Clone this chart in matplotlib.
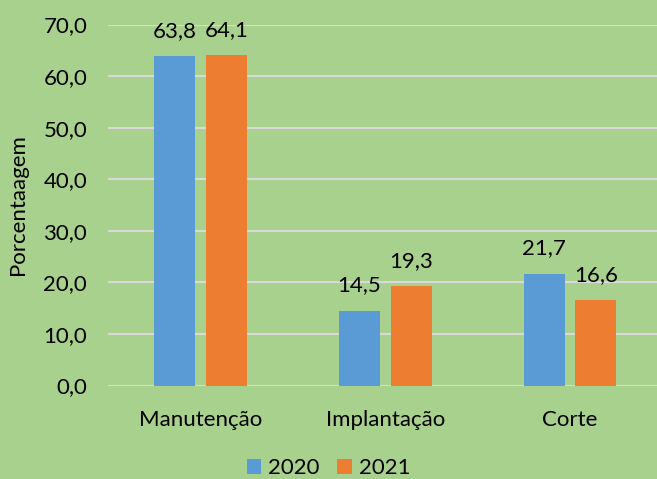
import matplotlib
matplotlib.use("Agg")
import matplotlib.pyplot as plt
import numpy as np

categories = ["Manutenção", "Implantação", "Corte"]
series_names = ["2020", "2021"]
values_2020 = [63.8, 14.5, 21.7]
values_2021 = [64.1, 19.3, 16.6]
yticks = [0, 10, 20, 30, 40, 50, 60, 70]

bg = "#a9d18e"
c_blue = "#5b9bd5"
c_orange = "#ed7d31"

plt.rcParams['font.family'] = ['Lato', 'DejaVu Sans']
fs = 16

fig = plt.figure(figsize=(6.57, 4.79), dpi=100)
fig.patch.set_facecolor(bg)
ax = fig.add_axes([108/657, 93.5/479, (657-108)/657, 361/479])
ax.set_facecolor(bg)

x = np.arange(len(categories))
w = 0.222
off = 0.14
b1 = ax.bar(x - off, values_2020, w, color=c_blue, label=series_names[0], zorder=3)
b2 = ax.bar(x + off, values_2021, w, color=c_orange, label=series_names[1], zorder=3)

for bars, vals in ((b1, values_2020), (b2, values_2021)):
    for rect, v in zip(bars, vals):
        ax.annotate(f"{v:.1f}".replace(".", ","),
                    (rect.get_x() + rect.get_width()/2, v),
                    xytext=(0, 11), textcoords="offset points",
                    ha="center", va="bottom", fontsize=fs, color="#000000")

ax.set_xlim(-0.5, 2 + (657-570)/185)
ax.set_ylim(0, 70)
ax.set_yticks(yticks)
ax.set_yticklabels([f"{t:.1f}".replace(".", ",") for t in yticks], fontsize=fs)
ax.set_xticks(x)
ax.set_xticklabels(categories, fontsize=fs)
ax.tick_params(axis="both", length=0, colors="#000000")
ax.tick_params(axis="y", pad=15)
ax.tick_params(axis="x", pad=18)
ax.grid(axis="y", color="#d9d9d9", linewidth=1.5, zorder=0)
for s in ax.spines.values():
    s.set_visible(False)
ax.set_ylabel("Porcentaagem", fontsize=fs, labelpad=11)

leg = fig.legend(handles=[b1, b2], labels=series_names, loc="center",
                 bbox_to_anchor=(0.5, 11/479), ncol=2, frameon=False,
                 fontsize=fs, handlelength=0.65, handleheight=0.65,
                 handletextpad=0.3, columnspacing=0.8)

fig.savefig("out.png", dpi=100, facecolor=bg)
